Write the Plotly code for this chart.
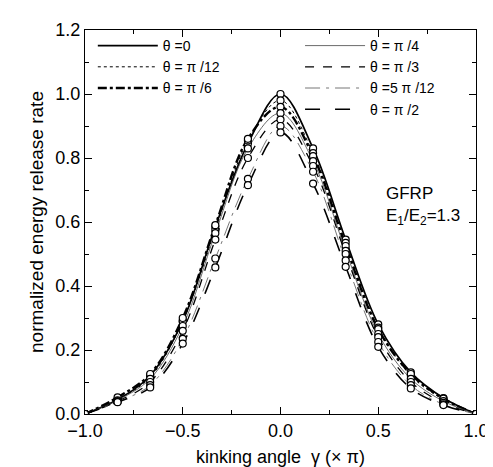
import plotly.graph_objects as go

# kinking angle gamma (x pi)
gamma = [-1.0, -5/6, -2/3, -0.5, -1/3, -1/6, 0.0, 1/6, 1/3, 0.5, 2/3, 5/6, 1.0]

# normalized energy release rate for each fibre angle theta
g_0 = [0.0, 0.045, 0.12, 0.29, 0.585, 0.845, 1.00, 0.83, 0.545, 0.28, 0.13, 0.05, 0.0]
g_pi12 = [0.0, 0.045, 0.115, 0.29, 0.575, 0.855, 0.98, 0.815, 0.535, 0.27, 0.12, 0.045, 0.0]
g_pi6 = [0.0, 0.052, 0.125, 0.30, 0.59, 0.86, 0.96, 0.806, 0.525, 0.265, 0.125, 0.048, 0.0]
g_pi4 = [0.0, 0.043, 0.11, 0.275, 0.565, 0.83, 0.94, 0.79, 0.51, 0.25, 0.11, 0.04, 0.0]
g_pi3 = [0.0, 0.04, 0.10, 0.26, 0.545, 0.80, 0.92, 0.775, 0.50, 0.24, 0.10, 0.035, 0.0]
g_5pi12 = [0.0, 0.038, 0.09, 0.235, 0.486, 0.735, 0.90, 0.757, 0.48, 0.225, 0.09, 0.03, 0.0]
g_pi2 = [0.0, 0.037, 0.083, 0.22, 0.458, 0.715, 0.88, 0.72, 0.46, 0.21, 0.08, 0.028, 0.0]

labels = ["θ =0", "θ = π /12", "θ = π /6", "θ = π /4", "θ = π /3", "θ =5 π /12", "θ = π /2"]
series = [g_0, g_pi12, g_pi6, g_pi4, g_pi3, g_5pi12, g_pi2]

# line style per curve: (dash, width, colour)
styles = [
    ("solid", 1.7, "black"),
    ("dot", 1.0, "black"),
    ("dashdot", 2.4, "black"),
    ("solid", 0.8, "#444444"),
    ("dash", 1.3, "black"),
    ("longdashdot", 0.9, "#666666"),
    ("longdash", 1.6, "black"),
]

fig = go.Figure()

for i, (name, vals) in enumerate(zip(labels, series)):
    dash, width, color = styles[i]
    fig.add_trace(go.Scatter(
        x=gamma, y=vals, mode="lines", name=name,
        line=dict(shape="spline", smoothing=1.0, dash=dash, width=width, color=color),
        legend="legend" if i < 3 else "legend2",
    ))

for vals in series:
    fig.add_trace(go.Scatter(
        x=gamma, y=vals, mode="markers", showlegend=False,
        marker=dict(symbol="circle", size=7, color="white",
                    line=dict(color="black", width=1.2)),
    ))

fig.add_annotation(x=0.53, y=0.69, text="GFRP", showarrow=False,
                   xanchor="left", font=dict(size=17))
fig.add_annotation(x=0.53, y=0.615, text="E<sub>1</sub>/E<sub>2</sub>=1.3",
                   showarrow=False, xanchor="left", font=dict(size=17))

axis_common = dict(
    showline=True, linecolor="black", linewidth=1.3, mirror="ticks",
    ticks="inside", ticklen=7, tickwidth=1.2, tickcolor="black",
    showgrid=False, zeroline=False,
    tickfont=dict(size=18, color="black"),
)

fig.update_xaxes(
    range=[-1.0, 1.0], dtick=0.5, tickformat=".1f",
    minor=dict(ticks="inside", ticklen=4, dtick=0.25, tickcolor="black"),
    title=dict(text="kinking angle  γ (× π)", font=dict(size=18), standoff=10),
    **axis_common,
)
fig.update_yaxes(
    range=[0.0, 1.2], dtick=0.2, tickformat=".1f",
    minor=dict(ticks="inside", ticklen=4, dtick=0.1, tickcolor="black"),
    title=dict(text="normalized energy release rate", font=dict(size=19), standoff=6),
    **axis_common,
)

legend_common = dict(
    bgcolor="rgba(0,0,0,0)", font=dict(size=14, color="black"),
    itemwidth=60, tracegroupgap=0, yanchor="top", xanchor="left",
)

fig.update_layout(
    width=493, height=467,
    margin=dict(l=77, r=20, t=14, b=58),
    plot_bgcolor="white", paper_bgcolor="white",
    font=dict(family="Liberation Sans, Arial, sans-serif", color="black"),
    legend=dict(x=0.02, y=1.0, **legend_common),
    legend2=dict(x=0.55, y=1.0, **legend_common),
)

fig.write_html("out.html")
